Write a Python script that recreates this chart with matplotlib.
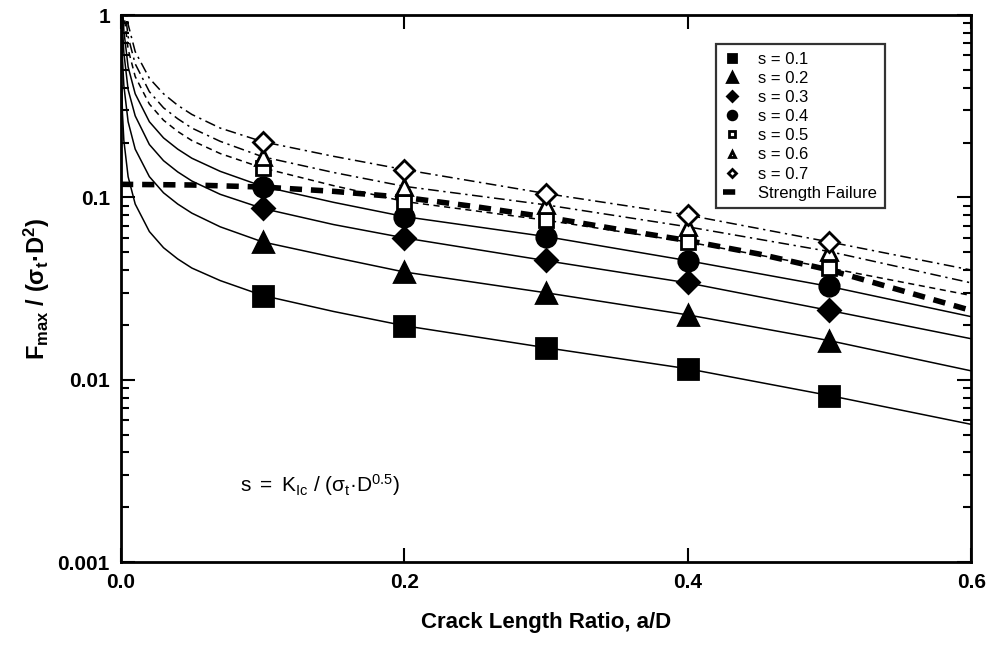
import matplotlib
matplotlib.use("Agg")
import matplotlib.pyplot as plt
import numpy as np

plt.rcParams['font.family'] = ['Liberation Sans', 'DejaVu Sans']
plt.rcParams['mathtext.fontset'] = 'custom'
plt.rcParams['mathtext.rm'] = 'Liberation Sans'
plt.rcParams['mathtext.sf'] = 'Liberation Sans'
plt.rcParams['mathtext.it'] = 'Liberation Sans'
plt.rcParams['mathtext.bf'] = 'Liberation Sans:bold'

# data
s_values = [0.1, 0.2, 0.3, 0.4, 0.5, 0.6, 0.7]
x_pts = [0.1, 0.2, 0.3, 0.4, 0.5]
pts = {
    0.1: [0.0289, 0.0198, 0.0150, 0.0115, 0.0082],
    0.2: [0.0573, 0.0392, 0.0299, 0.0227, 0.0164],
    0.3: [0.0873, 0.0598, 0.0454, 0.0343, 0.0242],
    0.4: [0.1146, 0.0785, 0.0610, 0.0449, 0.0325],
    0.5: [0.1445, 0.0948, 0.0753, 0.0573, 0.0409],
    0.6: [0.167, 0.1146, 0.091, 0.0692, 0.0505],
    0.7: [0.202, 0.142, 0.105, 0.080, 0.0573],
}

x_curve = [0.0005, 0.001, 0.002, 0.005, 0.01, 0.02, 0.03, 0.04, 0.05, 0.07,
           0.1, 0.15, 0.2, 0.3, 0.4, 0.5, 0.6]
curves = {
    0.1: [0.41, 0.29, 0.205, 0.13, 0.092, 0.065, 0.053, 0.046, 0.041, 0.035,
          0.029, 0.0237, 0.0198, 0.015, 0.0115, 0.0082, 0.0057],
    0.2: [0.82, 0.58, 0.41, 0.26, 0.184, 0.13, 0.106, 0.092, 0.082, 0.069,
          0.057, 0.047, 0.039, 0.030, 0.0227, 0.0164, 0.0112],
    0.3: [1.2, 0.87, 0.62, 0.39, 0.28, 0.195, 0.159, 0.138, 0.123, 0.104,
          0.087, 0.071, 0.060, 0.045, 0.034, 0.024, 0.0168],
    0.4: [1.6, 1.16, 0.82, 0.52, 0.37, 0.26, 0.212, 0.184, 0.164, 0.139,
          0.115, 0.094, 0.0785, 0.061, 0.045, 0.0325, 0.0222],
    0.5: [2.0, 1.45, 1.02, 0.65, 0.46, 0.325, 0.265, 0.23, 0.205, 0.174,
          0.145, 0.116, 0.095, 0.075, 0.057, 0.041, 0.029],
    0.6: [2.4, 1.7, 1.2, 0.76, 0.54, 0.38, 0.31, 0.27, 0.24, 0.203,
          0.167, 0.137, 0.115, 0.091, 0.069, 0.0505, 0.034],
    0.7: [2.8, 2.0, 1.4, 0.89, 0.63, 0.45, 0.37, 0.32, 0.285, 0.24,
          0.202, 0.168, 0.142, 0.105, 0.080, 0.057, 0.040],
}

x_strength = [0.0, 0.05, 0.1, 0.15, 0.2, 0.25, 0.3, 0.35, 0.4, 0.45, 0.5, 0.55, 0.6]
y_strength = [0.118, 0.117, 0.114, 0.108, 0.100, 0.089, 0.078, 0.067, 0.058, 0.049, 0.040, 0.031, 0.024]

line_styles = {0.1: '-', 0.2: '-', 0.3: '-', 0.4: '-',
               0.5: (0, (4, 3)), 0.6: (0, (7, 3, 1.5, 3)), 0.7: (0, (7, 3, 1.5, 3))}
markers = {0.1: ('s', 'k', 14), 0.2: ('^', 'k', 15), 0.3: ('D', 'k', 11), 0.4: ('o', 'k', 14),
           0.5: ('s', 'w', 10), 0.6: ('^', 'w', 11), 0.7: ('D', 'w', 10)}

fig = plt.figure(figsize=(9.92, 6.53), dpi=100)
ax = fig.add_axes([0.122, 0.139, 0.857, 0.838])

for s in s_values:
    ax.plot(x_curve, curves[s], color='k', lw=1.1, ls=line_styles[s], zorder=2)

ax.plot(x_strength, y_strength, color='k', lw=4, ls=(0, (2.2, 1.6)), zorder=3,
        label='Strength Failure')

for s in s_values:
    m, fc, ms = markers[s]
    ax.plot(x_pts, pts[s], ls='none', marker=m, ms=ms, mfc=fc, mec='k', mew=2,
            zorder=5 if fc == 'k' else 6, label='s = %.1f' % s)

ax.set_yscale('log')
ax.set_xlim(0, 0.6)
ax.set_ylim(0.001, 1)
ax.set_xticks([0.0, 0.2, 0.4, 0.6])
ax.set_xticklabels(['0.0', '0.2', '0.4', '0.6'])
ax.set_yticks([0.001, 0.01, 0.1, 1])
ax.set_yticklabels(['0.001', '0.01', '0.1', '1'])
ax.tick_params(which='both', direction='in', top=True, right=True, width=1.5)
ax.tick_params(which='major', length=10, labelsize=15, pad=8)
ax.tick_params(which='minor', length=6)
for lab in ax.get_xticklabels() + ax.get_yticklabels():
    lab.set_fontweight('bold')
for sp in ax.spines.values():
    sp.set_linewidth(2)

ax.set_xlabel('Crack Length Ratio, a/D', fontsize=16, fontweight='bold', labelpad=14)
ax.set_ylabel('$\\mathbf{F_{max}\\ /\\ (σ_t·D^2)}$', fontsize=17, labelpad=4)

ax.text(0.084, 0.00266, '$\\mathsf{s\\ =\\ K_{Ic}\\ /\\ (σ_t·D^{0.5})}$', fontsize=15,
        va='center', ha='left')

handles, labels = ax.get_legend_handles_labels()
order = labels[1:] + labels[:1]
hs = handles[1:] + handles[:1]
leg = ax.legend(hs, order, loc='upper left', bbox_to_anchor=(0.69, 0.962),
                fontsize=12, frameon=True, fancybox=False, edgecolor='k',
                markerscale=0.45, handlelength=1.0, handletextpad=1.1,
                labelspacing=0.25, borderpad=0.45)
leg.get_frame().set_linewidth(1.6)

fig.savefig('out.png', dpi=100)
